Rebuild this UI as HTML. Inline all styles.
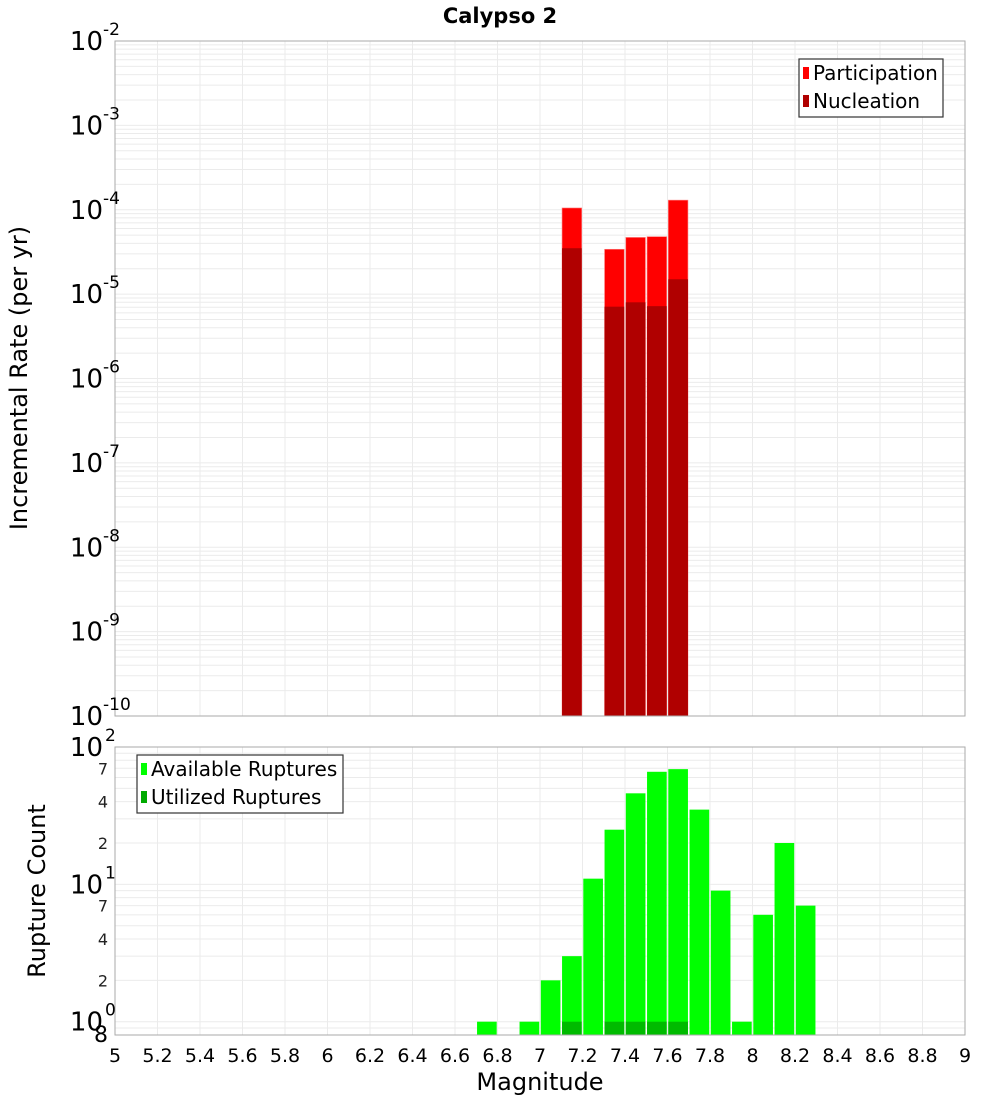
<!DOCTYPE html>
<html><head><meta charset="utf-8"><style>
body{margin:0;background:#fff;font-family:"Liberation Sans","DejaVu Sans",sans-serif}
svg text{font-family:"DejaVu Sans","Liberation Sans",sans-serif}
</style></head><body>
<svg id="c" width="1000" height="1100" xmlns="http://www.w3.org/2000/svg">
<text x="500" y="23" text-anchor="middle" font-size="21" font-weight="bold">Calypso 2</text>
<text transform="translate(27,378) rotate(-90)" text-anchor="middle" font-size="24">Incremental Rate (per yr)</text>
<text transform="translate(45,891) rotate(-90)" text-anchor="middle" font-size="24">Rupture Count</text>
<text x="540" y="1090" text-anchor="middle" font-size="24">Magnitude</text>
</svg>
<script>
const mags=[7.1,7.3,7.4,7.5,7.6];
const participation=[1.05e-4,3.4e-5,4.7e-5,4.8e-5,1.3e-4];
const nucleation=[3.5e-5,7.1e-6,8.0e-6,7.2e-6,1.5e-5];
const countMags=[6.7,6.9,7.0,7.1,7.2,7.3,7.4,7.5,7.6,7.7,7.8,7.9,8.0,8.1,8.2];
const available=[1,1,2,3,11,25,46,66,69,35,9,1,6,20,7];
const utilMags=[7.1,7.3,7.4,7.5,7.6];
const utilized=[1,1,1,1,1];
const xTicks=[5,5.2,5.4,5.6,5.8,6,6.2,6.4,6.6,6.8,7,7.2,7.4,7.6,7.8,8,8.2,8.4,8.6,8.8,9];
const topDecades=[-10,-9,-8,-7,-6,-5,-4,-3,-2];
const botMinorLabels=[2,4,7,20,40,70];

const svg=document.getElementById('c');const NS='http://www.w3.org/2000/svg';
function el(t,a,p){const e=document.createElementNS(NS,t);for(const k in a)e.setAttribute(k,a[k]);(p||svg).appendChild(e);return e;}
const X0=115,X1=965;
const xs=m=>X0+(m-5)/4*(X1-X0);
const T0=41,T1=716;const ty=v=>T0+(-2-Math.log10(v))/8*(T1-T0);
const B0=747,B1=1035;const bmin=Math.log10(0.8),bmax=2;const by=v=>B1-(Math.log10(v)-bmin)/(bmax-bmin)*(B1-B0);

const g=el('g',{});

xTicks.forEach(m=>{el('line',{x1:xs(m),x2:xs(m),y1:T0,y2:T1,stroke:'#ebebeb'},g);el('line',{x1:xs(m),x2:xs(m),y1:B0,y2:B1,stroke:'#ebebeb'},g);});
for(let d=-10;d<-2;d++)for(let k=1;k<10;k++){const y=ty(k*Math.pow(10,d));el('line',{x1:X0,x2:X1,y1:y,y2:y,stroke:'#ebebeb'},g);}
for(let d=-1;d<2;d++)for(let k=1;k<10;k++){const v=k*Math.pow(10,d);if(v<0.8)continue;const y=by(v);el('line',{x1:X0,x2:X1,y1:y,y2:y,stroke:'#ebebeb'},g);}

const bw=(X1-X0)/40;
mags.forEach((m,i)=>{
 let r=el('rect',{x:xs(m)+0.8,y:ty(participation[i]),width:bw-1.6,height:T1-ty(participation[i]),fill:'#ff0000',stroke:'#ff8080','stroke-width':0.6});
 
 r=el('rect',{x:xs(m)+0.8,y:ty(nucleation[i]),width:bw-1.6,height:T1-ty(nucleation[i]),fill:'#b00000'});
 
});
countMags.forEach((m,i)=>{
 const r=el('rect',{x:xs(m)+0.8,y:by(available[i]),width:bw-1.6,height:B1-by(available[i]),fill:'#00ff00'});
 
});
utilMags.forEach((m,i)=>{
 const r=el('rect',{x:xs(m)+0.8,y:by(utilized[i]),width:bw-1.6,height:B1-by(utilized[i]),fill:'#00bb00'});
 
});
el('rect',{x:X0,y:T0,width:X1-X0,height:T1-T0,fill:'none',stroke:'#aaa'});
el('rect',{x:X0,y:B0,width:X1-X0,height:B1-B0,fill:'none',stroke:'#aaa'});
topDecades.forEach(d=>{const y=ty(Math.pow(10,d));
 const t=el('text',{x:103,y:y+9,'text-anchor':'end','font-size':26});t.textContent='10';
 
 const s=el('text',{x:103,y:y-6,'font-size':17});s.textContent=String(d);
 
});
[0,1,2].forEach(d=>{const y=by(Math.pow(10,d));
 const t=el('text',{x:103,y:y+9,'text-anchor':'end','font-size':26});t.textContent='10';
 
 const s=el('text',{x:105,y:y-6,'font-size':17});s.textContent=String(d);
 
});
botMinorLabels.forEach(v=>{const t=el('text',{x:108,y:by(v)+6,'text-anchor':'end','font-size':16,fill:'#222'});t.textContent=String(v).charAt(0);
 });
{const t=el('text',{x:108,y:1042,'text-anchor':'end','font-size':22});t.textContent='8';}
xTicks.forEach(m=>{const t=el('text',{x:xs(m),y:1062,'text-anchor':'middle','font-size':19});t.textContent=String(m);
 });
function legend(x,y,w,items,name){const g=el('g',{});
 el('rect',{x:x,y:y,width:w,height:58,fill:'#fff',stroke:'#333','stroke-width':1.2},g);
 items.forEach((it,i)=>{el('rect',{x:x+4,y:y+8+i*28,width:6,height:12,fill:it[1]},g);
  const t=el('text',{x:x+14,y:y+21+i*28,'font-size':20},g);t.textContent=it[0];});}
legend(799,59,144,[['Participation','#ff0000'],['Nucleation','#b00000']],'top-legend');
legend(137,755,206,[['Available Ruptures','#00ff00'],['Utilized Ruptures','#00aa00']],'bottom-legend');
</script>
</body></html>
